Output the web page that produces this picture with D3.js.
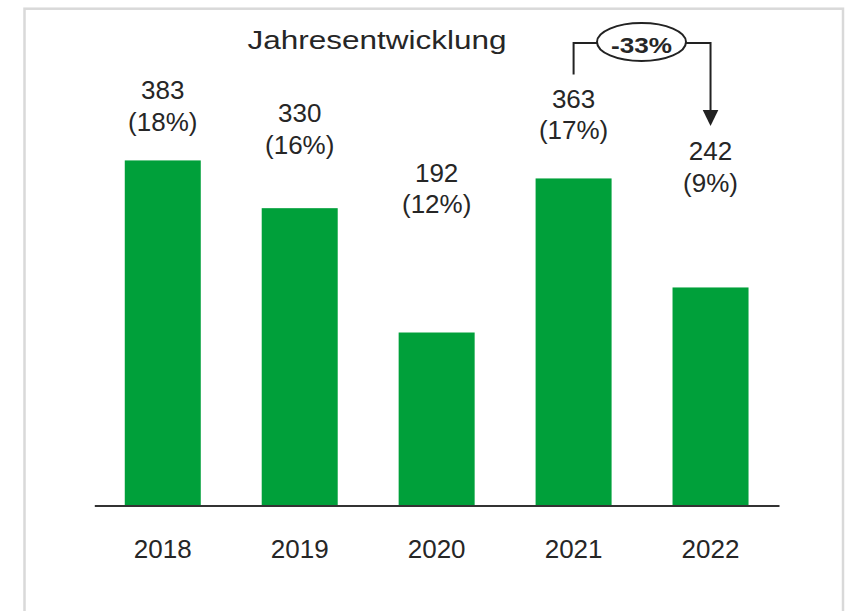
<!DOCTYPE html>
<html>
<head>
<meta charset="utf-8">
<script src="https://cdn.jsdelivr.net/npm/d3@7"></script>
<style>
  html, body { margin: 0; padding: 0; background: #fff; }
  svg { display: block; font-family: "Liberation Sans", Arial, Helvetica, sans-serif; }
</style>
</head>
<body>
<svg id="chart" width="847" height="611"></svg>
<script>
// ---- data ----
const years = ["2018", "2019", "2020", "2021", "2022"];
const values = [383, 330, 192, 363, 242];
const shares = ["18%", "16%", "12%", "17%", "9%"];
const title = "Jahresentwicklung";
const changeLabel = "-33%";
const changeFrom = "2021";
const changeTo = "2022";

// ---- setup ----
const svg = d3.select("#chart");
const textColor = "#262626";
const green = "#00a03a";

// frame
svg.append("rect")
  .attr("x", 24.5).attr("y", 8.7)
  .attr("width", 818.5).attr("height", 640)
  .attr("fill", "#fff")
  .attr("stroke", "#d9d9d9")
  .attr("stroke-width", 2.5);

const x = d3.scaleBand()
  .domain(years)
  .range([94.3, 779])
  .paddingInner(0.445)
  .paddingOuter(0.2225);

const y = d3.scaleLinear().domain([0, 500]).range([505.5, 55]);
// label positions follow a compressed scale
const labelY = d3.scaleLinear().domain([0, 500]).range([264.5, 48.8]);

const data = years.map((yr, i) => ({ year: yr, value: values[i], share: shares[i] }));

// bars
svg.append("g").selectAll("rect")
  .data(data)
  .join("rect")
  .attr("x", d => x(d.year))
  .attr("y", d => y(d.value))
  .attr("width", x.bandwidth())
  .attr("height", d => y(0) - y(d.value))
  .attr("fill", green);

// x axis
const axis = svg.append("g")
  .attr("transform", `translate(0,${y(0)})`)
  .call(d3.axisBottom(x).tickSize(0).tickPadding(0));
axis.select(".domain")
  .attr("stroke", "#333")
  .attr("stroke-width", 2.2);
axis.selectAll(".tick text")
  .attr("fill", textColor)
  .attr("font-size", 26)
  .attr("dy", null)
  .attr("y", 52.8)
  .attr("font-family", "'Liberation Sans', Arial, sans-serif");

// value labels
const lab = svg.append("g").selectAll("text")
  .data(data)
  .join("text")
  .attr("text-anchor", "middle")
  .attr("fill", textColor)
  .attr("font-size", 26);
lab.append("tspan")
  .attr("x", d => x(d.year) + x.bandwidth() / 2)
  .attr("y", d => labelY(d.value))
  .text(d => d.value);
lab.append("tspan")
  .attr("x", d => x(d.year) + x.bandwidth() / 2)
  .attr("y", d => labelY(d.value) + 31.5)
  .text(d => `(${d.share})`);

// title
svg.append("text")
  .attr("x", 377)
  .attr("y", 49)
  .attr("text-anchor", "middle")
  .attr("fill", textColor)
  .attr("font-size", 25.5)
  .attr("textLength", 259)
  .attr("lengthAdjust", "spacingAndGlyphs")
  .text(title);

// change annotation
const vFrom = values[years.indexOf(changeFrom)];
const vTo = values[years.indexOf(changeTo)];
const x1 = x(changeFrom) + x.bandwidth() / 2;
const x2 = x(changeTo) + x.bandwidth() / 2;
const topY = 43;
const cx = 641.5, cy = 42, rx = 44.5, ry = 19;
const ann = svg.append("g").attr("stroke", "#222").attr("stroke-width", 2).attr("fill", "none");
ann.append("path")
  .attr("d", `M${x1},${labelY(vFrom) - 33.5} V${topY} H${cx - rx}`);
ann.append("path")
  .attr("d", `M${cx + rx},${topY} H${x2} V${labelY(vTo) - 50}`);
ann.append("ellipse")
  .attr("cx", cx).attr("cy", cy).attr("rx", rx).attr("ry", ry)
  .attr("fill", "#fff");
svg.append("path")
  .attr("d", `M${x2 - 7.8},${labelY(vTo) - 50} L${x2 + 7.8},${labelY(vTo) - 50} L${x2},${labelY(vTo) - 34} Z`)
  .attr("fill", "#222");
svg.append("text")
  .attr("x", cx)
  .attr("y", 52.8)
  .attr("text-anchor", "middle")
  .attr("fill", textColor)
  .attr("font-size", 22)
  .attr("font-weight", "bold")
  .attr("textLength", 61)
  .attr("lengthAdjust", "spacingAndGlyphs")
  .text(changeLabel);
</script>
</body>
</html>
